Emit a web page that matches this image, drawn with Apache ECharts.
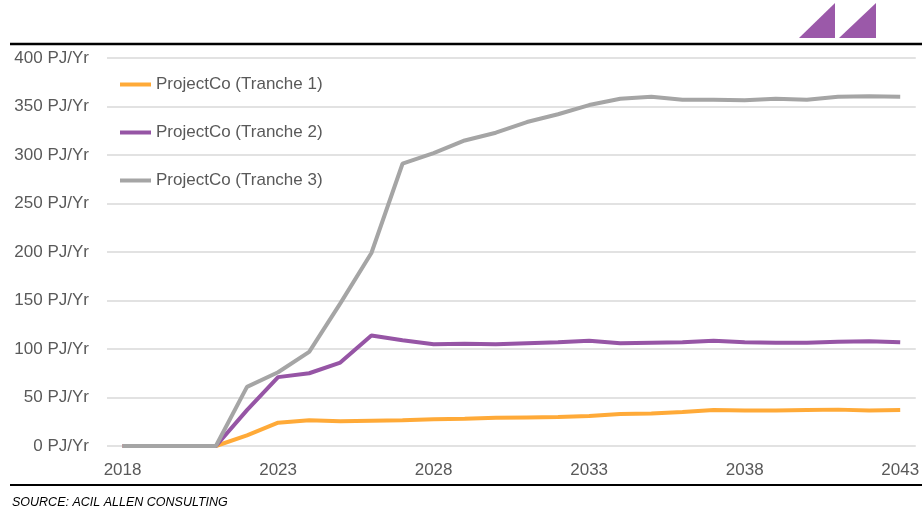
<!DOCTYPE html>
<html>
<head>
<meta charset="utf-8">
<script src="https://cdn.jsdelivr.net/npm/echarts@6/dist/echarts.min.js"></script>
<style>html,body{margin:0;padding:0;background:#fff;}#c{width:922px;height:519px;}</style>
</head>
<body>
<div id="c"></div>
<script>
const years = ['2018','2019','2020','2021','2022','2023','2024','2025','2026','2027','2028','2029','2030','2031','2032','2033','2034','2035','2036','2037','2038','2039','2040','2041','2042','2043'];
const seriesNames = ['ProjectCo (Tranche 1)', 'ProjectCo (Tranche 2)', 'ProjectCo (Tranche 3)'];
const tranche1 = [0,0,0,0,11,24,26.5,25.5,26,26.5,27.5,28,29,29.5,30,31,33,33.5,35,37,36.5,36.5,37,37.5,36.5,37];
const tranche2 = [0,0,0,0,37,71,75,86,114,109,105,105.5,105,106,107,108.5,106,106.5,107,108.5,107,106.5,106.5,107.5,108,107];
const tranche3 = [0,0,0,0,61,76,97,147,199,291,302,315,323,334,342,351.5,358,360,357,357,356.5,358,357,360,360.5,360];
const yTicks = [0,50,100,150,200,250,300,350,400];
const sourceText = 'SOURCE: ACIL ALLEN CONSULTING';

const colors = ['#FFAA38', '#9655A5', '#A5A5A5'];
const font = '"Liberation Sans", Arial, sans-serif';

const chart = echarts.init(document.getElementById('c'), null, {renderer: 'canvas'});
chart.setOption({
  animation: false,
  backgroundColor: '#fff',
  color: colors,
  textStyle: {fontFamily: font},
  grid: {left: 107, right: 0, top: 58, bottom: 73, containLabel: false},
  legend: {
    orient: 'vertical',
    left: 120, top: 76,
    padding: 0,
    icon: 'rect',
    itemWidth: 31, itemHeight: 4,
    itemGap: 31,
    textStyle: {fontFamily: font, fontSize: 17, color: '#595959'},
    data: seriesNames
  },
  xAxis: {
    type: 'category',
    data: years,
    boundaryGap: true,
    axisLine: {show: false},
    axisTick: {show: false},
    axisLabel: {interval: 4, fontFamily: font, fontSize: 17, color: '#595959', margin: 16},
    splitLine: {show: false}
  },
  yAxis: {
    type: 'value',
    min: yTicks[0], max: yTicks[yTicks.length - 1], interval: 50,
    axisLine: {show: false},
    axisTick: {show: false},
    axisLabel: {fontFamily: font, fontSize: 17, color: '#595959', margin: 18, formatter: v => v + ' PJ/Yr'},
    splitLine: {lineStyle: {color: '#D9D9D9', width: 1.5}}
  },
  series: [
    {name: seriesNames[0], type: 'line', data: tranche1, symbol: 'none', lineStyle: {width: 4, color: colors[0]}, z: 3},
    {name: seriesNames[1], type: 'line', data: tranche2, symbol: 'none', lineStyle: {width: 4, color: colors[1]}, z: 4},
    {name: seriesNames[2], type: 'line', data: tranche3, symbol: 'none', lineStyle: {width: 4, color: colors[2]}, z: 5}
  ],
  graphic: [
    {type: 'line', shape: {x1: 10, y1: 44, x2: 922, y2: 44}, style: {stroke: '#000', lineWidth: 2.5}},
    {type: 'line', shape: {x1: 10, y1: 485, x2: 922, y2: 485}, style: {stroke: '#000', lineWidth: 2}},
    {type: 'polygon', shape: {points: [[799, 38], [835, 3], [835, 38]]}, style: {fill: '#9B59A9'}},
    {type: 'polygon', shape: {points: [[839, 38], [876, 3], [876, 38]]}, style: {fill: '#9B59A9'}},
    {type: 'text', left: 12, top: 496, style: {text: sourceText, font: 'italic 12.5px ' + font, fill: '#000'}}
  ]
});
</script>
</body>
</html>
